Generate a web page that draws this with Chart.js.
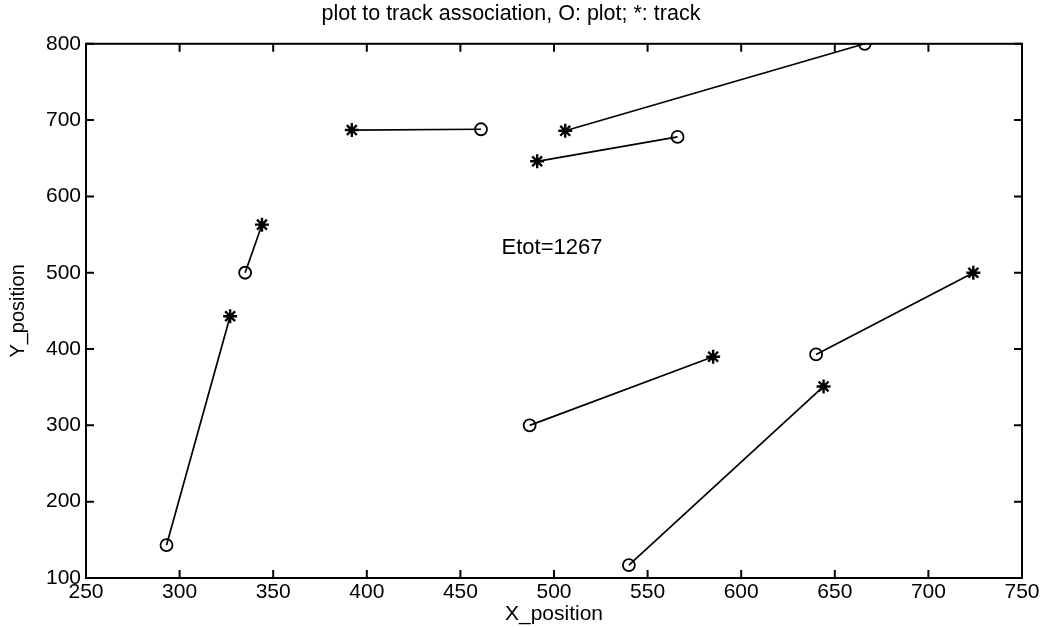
<!DOCTYPE html>
<html lang="en">
<head>
  <meta charset="UTF-8" />
  <title>plot to track association</title>
  <style>
    body { margin: 0; background: #fff; }
    #wrap { width: 1057px; height: 627px; }
  </style>
</head>
<body>
  <div id="wrap"><canvas id="chart"></canvas></div>

  <script src="https://cdn.jsdelivr.net/npm/chart.js"></script>
  <script>
    // plots (O) and the tracks (*) they were associated with
    const plotX  = [293, 335, 461, 666, 566, 487, 540, 640];
    const plotY  = [143, 500, 688, 800, 678, 300, 117, 393];
    const trackX = [327, 344, 392, 506, 491, 585, 644, 724];
    const trackY = [443, 563, 687, 686, 646, 390, 351, 500];

    const xTicks = [250, 300, 350, 400, 450, 500, 550, 600, 650, 700, 750];
    const yTicks = [100, 200, 300, 400, 500, 600, 700, 800];

    const note = { x: 472, y: 533, text: 'Etot=1267' };

    const FONT = "'Liberation Sans', Arial, Helvetica, sans-serif";

    const datasets = plotX.map((px, i) => ({
      data: [{ x: px, y: plotY[i] }, { x: trackX[i], y: trackY[i] }],
      showLine: true,
      borderColor: '#000',
      borderWidth: 1.7,
      backgroundColor: 'rgba(0,0,0,0)',
      pointStyle: ['circle', 'star'],
      pointRadius: [6, 7],
      pointBorderWidth: [1.8, 2.4],
      pointBorderColor: '#000',
      pointBackgroundColor: 'rgba(0,0,0,0)'
    }));

    // matlab style box with inward ticks + text label
    const boxPlugin = {
      id: 'box',
      afterDraw(chart) {
        const { ctx, chartArea: a, scales } = chart;
        ctx.save();
        ctx.strokeStyle = '#000';
        ctx.lineWidth = 2;
        ctx.strokeRect(a.left, a.top, a.right - a.left, a.bottom - a.top);
        ctx.beginPath();
        xTicks.forEach(v => {
          const p = scales.x.getPixelForValue(v);
          ctx.moveTo(p, a.bottom); ctx.lineTo(p, a.bottom - 8);
          ctx.moveTo(p, a.top); ctx.lineTo(p, a.top + 8);
        });
        yTicks.forEach(v => {
          const p = scales.y.getPixelForValue(v);
          ctx.moveTo(a.left, p); ctx.lineTo(a.left + 8, p);
          ctx.moveTo(a.right, p); ctx.lineTo(a.right - 8, p);
        });
        ctx.stroke();
        ctx.fillStyle = '#000';
        ctx.font = '22px ' + FONT;
        ctx.textBaseline = 'middle';
        ctx.fillText(note.text, scales.x.getPixelForValue(note.x), scales.y.getPixelForValue(note.y));
        ctx.restore();
      }
    };

    new Chart(document.getElementById('chart'), {
      type: 'scatter',
      data: { datasets },
      options: {
        responsive: true,
        maintainAspectRatio: false,
        animation: false,
        layout: { padding: { left: 0, right: 35, top: 0, bottom: 0 } },
        plugins: {
          legend: { display: false },
          tooltip: { enabled: false },
          title: {
            display: true,
            text: 'plot to track association, O: plot; *: track',
            color: '#000',
            font: { family: FONT, size: 21.5, weight: 'normal' },
            padding: { top: 1, bottom: 17 }
          }
        },
        scales: {
          x: {
            type: 'linear',
            min: 250, max: 750,
            afterBuildTicks: s => { s.ticks = xTicks.map(v => ({ value: v })); },
            afterFit: s => { s.height = 49; },
            grid: { display: false, drawTicks: false },
            border: { display: false },
            ticks: { color: '#000', padding: 2, font: { family: FONT, size: 21 } },
            title: {
              display: true, text: 'X_position', color: '#000',
              font: { family: FONT, size: 21 }, padding: 0
            }
          },
          y: {
            type: 'linear',
            min: 100, max: 800,
            afterBuildTicks: s => { s.ticks = yTicks.map(v => ({ value: v })); },
            afterFit: s => { s.width = 86; },
            grid: { display: false, drawTicks: false },
            border: { display: false },
            ticks: { color: '#000', padding: 5, font: { family: FONT, size: 21 } },
            title: {
              display: true, text: 'Y_position', color: '#000',
              font: { family: FONT, size: 20 }, padding: { top: 6, bottom: 0 }
            }
          }
        }
      },
      plugins: [boxPlugin]
    });
  </script>
</body>
</html>
